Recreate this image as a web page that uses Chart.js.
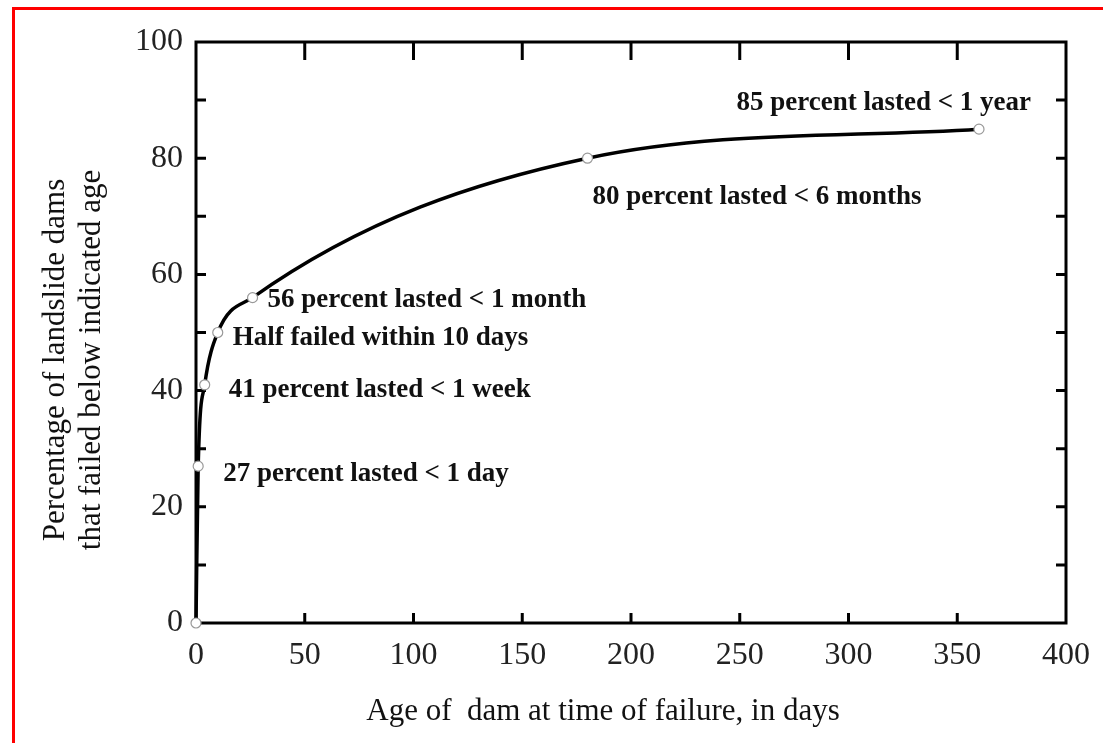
<!DOCTYPE html>
<html>
<head>
<meta charset="utf-8">
<title>Landslide dam failures</title>
<script src="https://cdn.jsdelivr.net/npm/chart.js@4"></script>
<style>
  html, body { margin: 0; padding: 0; background: #fff; }
  #wrap { position: relative; width: 1103px; height: 743px; overflow: hidden; }
  #frame { position: absolute; left: 12px; top: 7px; width: 1200px; height: 900px;
           border-top: 3px solid #f00; border-left: 3px solid #f00; }
  #chart { position: absolute; left: 0; top: 0; }
</style>
</head>
<body>
<div id="wrap">
  <div id="frame"></div>
  <canvas id="chart" width="1103" height="743"></canvas>
</div>
<script>
// Age of dam (days) vs cumulative percent failed
const ageDays = [0, 1, 4, 10, 26, 180, 360];
const percentFailed = [0, 27, 41, 50, 56, 80, 85];

const xTicks = [0, 50, 100, 150, 200, 250, 300, 350, 400];
const yTicks = [0, 20, 40, 60, 80, 100];

// annotation text, keyed by point index
const noteIndex = [1, 2, 3, 4, 5, 6];
const noteText = [
    '27 percent lasted < 1 day',
    '41 percent lasted < 1 week',
    'Half failed within 10 days',
    '56 percent lasted < 1 month',
    '80 percent lasted < 6 months',
    '85 percent lasted < 1 year'
];

const xTitle = 'Age of  dam at time of failure, in days';
const yTitle = ['Percentage of landslide dams', 'that failed below indicated age'];

// label offsets from their point, in px
const noteStyle = [
    { dx: 25, dy: 8, align: 'left' },
    { dx: 24, dy: 5, align: 'left' },
    { dx: 15, dy: 6, align: 'left' },
    { dx: 15, dy: 2, align: 'left' },
    { dx: 5, dy: 39, align: 'left' },
    { dx: 52, dy: -26, align: 'right' }
];

const SERIF = '"Liberation Serif", "Times New Roman", serif';

// box + inward tick marks on all four sides
const framePlugin = {
    id: 'frame',
    beforeDatasetsDraw(chart) {
        const { ctx, chartArea: a, scales } = chart;
        ctx.save();
        ctx.strokeStyle = '#000';
        ctx.lineWidth = 3;
        ctx.strokeRect(a.left, a.top, a.right - a.left, a.bottom - a.top);
        ctx.beginPath();
        for (let v = 10; v < 100; v += 10) {
            const y = scales.y.getPixelForValue(v);
            ctx.moveTo(a.left, y); ctx.lineTo(a.left + 10, y);
            ctx.moveTo(a.right, y); ctx.lineTo(a.right - 10, y);
        }
        for (let v = 50; v < 400; v += 50) {
            const x = scales.x.getPixelForValue(v);
            ctx.moveTo(x, a.bottom); ctx.lineTo(x, a.bottom - 10);
            ctx.moveTo(x, a.top); ctx.lineTo(x, a.top + 18);
        }
        ctx.stroke();
        ctx.restore();
    }
};

// axis titles and point annotations
const textPlugin = {
    id: 'texts',
    afterDraw(chart) {
        const { ctx } = chart;
        const meta = chart.getDatasetMeta(0);
        ctx.save();
        ctx.fillStyle = '#111';

        ctx.font = '31px ' + SERIF;
        ctx.textAlign = 'center';
        ctx.textBaseline = 'alphabetic';
        ctx.fillText(xTitle, 603, 720);

        ctx.translate(0, 360);
        ctx.rotate(-Math.PI / 2);
        ctx.fillText(yTitle[0], 0, 64);
        ctx.fillText(yTitle[1], 0, 100);
        ctx.setTransform(1, 0, 0, 1, 0, 0);

        ctx.font = 'bold 27px ' + SERIF;
        ctx.textBaseline = 'middle';
        noteIndex.forEach((idx, i) => {
            const pt = meta.data[idx];
            const s = noteStyle[i];
            ctx.textAlign = s.align;
            ctx.fillText(noteText[i], pt.x + s.dx, pt.y + s.dy);
        });
        ctx.restore();
    }
};

new Chart(document.getElementById('chart'), {
    type: 'line',
    data: {
        datasets: [{
            data: ageDays.map((d, i) => ({ x: d, y: percentFailed[i] })),
            borderColor: '#000',
            borderWidth: 3.5,
            cubicInterpolationMode: 'monotone',
            pointRadius: 5,
            pointBackgroundColor: '#fff',
            pointBorderColor: '#999',
            pointBorderWidth: 1.2,
            fill: false,
            clip: false
        }]
    },
    options: {
        responsive: false,
        animation: false,
        layout: { padding: { top: 42, right: 35, left: 0, bottom: 0 } },
        plugins: { legend: { display: false }, tooltip: { enabled: false } },
        scales: {
            x: {
                type: 'linear',
                min: 0,
                max: 400,
                afterFit(scale) { scale.height = 120; },
                afterBuildTicks(scale) { scale.ticks = xTicks.map(v => ({ value: v })); },
                grid: { display: false, drawTicks: false },
                border: { display: false },
                ticks: {
                    padding: 13,
                    maxRotation: 0,
                    color: '#222',
                    font: { family: SERIF, size: 32 }
                }
            },
            y: {
                min: 0,
                max: 100,
                afterFit(scale) { scale.width = 196; },
                afterBuildTicks(scale) { scale.ticks = yTicks.map(v => ({ value: v })); },
                grid: { display: false, drawTicks: false },
                border: { display: false },
                ticks: {
                    padding: 13,
                    color: '#222',
                    font: { family: SERIF, size: 32 }
                }
            }
        }
    },
    plugins: [framePlugin, textPlugin]
});
</script>
</body>
</html>
